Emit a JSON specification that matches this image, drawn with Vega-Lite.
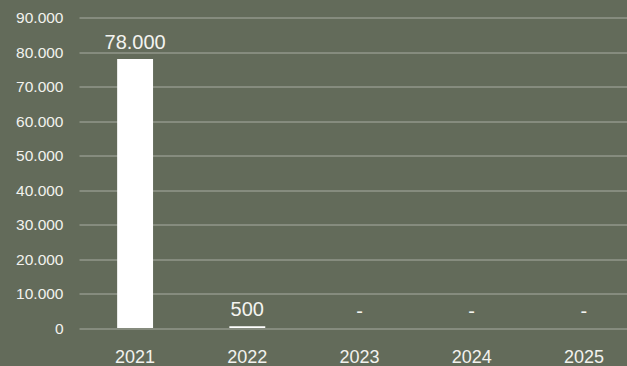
{
  "$schema": "https://vega.github.io/schema/vega-lite/v6.json",
  "autosize": {"type": "none"},
  "padding": {"left": 76, "top": 17.5, "right": 0, "bottom": 38},
  "width": 551,
  "height": 310.5,
  "background": "#636b5a",
  "config": {
    "locale": {"number": {"decimal": ",", "thousands": ".", "grouping": [3], "currency": ["", " €"]}},
    "view": {"stroke": null},
    "font": "Liberation Sans"
  },
  "data": {
    "values": [
      {"year": "2021", "value": 78000, "label": "78.000"},
      {"year": "2022", "value": 500, "label": "500"},
      {"year": "2023", "value": 0, "label": "-"},
      {"year": "2024", "value": 0, "label": "-"},
      {"year": "2025", "value": 0, "label": "-"}
    ]
  },
  "encoding": {
    "x": {
      "field": "year",
      "type": "ordinal",
      "scale": {"range": [3, 564], "paddingInner": 0.68, "paddingOuter": 0.34},
      "axis": {
        "title": null,
        "domain": false,
        "ticks": false,
        "tickSize": 0,
        "labelAngle": 0,
        "labelFontSize": 18,
        "labelColor": "#f2f2ee",
        "labelPadding": 20,
        "grid": false
      }
    },
    "y": {
      "field": "value",
      "type": "quantitative",
      "scale": {"domain": [0, 90000], "nice": false},
      "axis": {
        "title": null,
        "domain": false,
        "ticks": false,
        "tickSize": 0,
        "values": [0, 10000, 20000, 30000, 40000, 50000, 60000, 70000, 80000, 90000],
        "format": ",d",
        "labelFontSize": 15.5,
        "labelColor": "#f2f2ee",
        "labelPadding": 13,
        "gridColor": "#a9ada2",
        "gridWidth": 1,
        "gridOpacity": 1
      }
    }
  },
  "layer": [
    {"mark": {"type": "bar", "color": "#ffffff"}},
    {
      "mark": {"type": "text", "color": "#f4f4f0", "fontSize": 20, "baseline": "alphabetic", "dy": -10},
      "encoding": {"text": {"field": "label"}}
    }
  ]
}
